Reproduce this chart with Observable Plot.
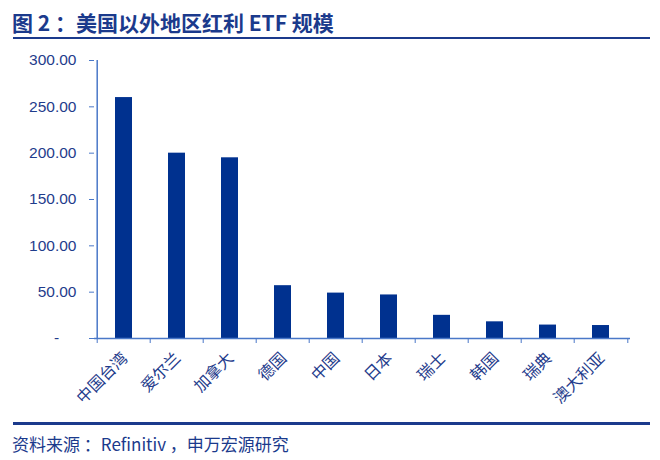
<!DOCTYPE html>
<html><head><meta charset="utf-8">
<script src="https://cdn.jsdelivr.net/npm/d3@7"></script>
<script src="https://cdn.jsdelivr.net/npm/@observablehq/plot@0.6"></script>
<style>
body{margin:0;background:#fff;}
#wrap{position:relative;width:660px;height:460px;overflow:hidden;font-family:"Noto Sans CJK SC","Liberation Sans",sans-serif;background:#fff;}
#title{position:absolute;left:12px;top:12px;font-size:21px;line-height:21px;font-weight:bold;color:#1B3A8C;white-space:pre;}
#tline{position:absolute;left:13px;top:37px;width:637px;height:2px;background:#1B3A8C;}
#bline{position:absolute;left:13px;top:422px;width:637px;height:3px;background:#1B3A8C;}
#caption{position:absolute;left:12px;top:435px;font-size:17px;line-height:17px;color:#1B3A8C;white-space:pre;}
#chart{position:absolute;left:0;top:45px;}
</style>
</head><body>
<div id="wrap">
  <div id="title">图 2 ：美国以外地区红利 ETF 规模</div>
  <div id="tline"></div>
  <div id="chart"></div>
  <div id="bline"></div>
  <div id="caption">资料来源 ：Refinitiv ，申万宏源研究</div>
</div>
<script>
const categories = ["中国台湾","爱尔兰","加拿大","德国","中国","日本","瑞士","韩国","瑞典","澳大利亚"];
const values = [260, 200, 195, 57, 49, 47, 25, 18, 14.5, 14];
const yTicks = [0, 50, 100, 150, 200, 250, 300];

const data = categories.map((c, i) => ({region: c, value: values[i]}));
const W = 660, H = 370, mL = 94, mR = 30, mT = 15, mB = 77;
const step = (W - mL - mR) / categories.length;
const axisColor = "#4A78C8";
const textColor = "#1F3C8C";
const barColor = "#00318F";

const chart = Plot.plot({
  width: W, height: H,
  marginLeft: mL, marginRight: mR, marginTop: mT, marginBottom: mB,
  style: {fontFamily: "'Liberation Sans','Noto Sans CJK SC',sans-serif", fontSize: "15px", color: textColor, background: "transparent"},
  x: {domain: categories, paddingInner: 0.68, paddingOuter: 0.34},
  y: {domain: [0, 300]},
  marks: [
    Plot.barY(data, {x: "region", y: "value", fill: barColor}),
    Plot.ruleY([0], {stroke: axisColor, strokeWidth: 1.5}),
    Plot.ruleX([categories[0]], {dx: -step / 2, y1: 0, y2: 300, stroke: axisColor, strokeWidth: 1.5}),
    Plot.axisY({ticks: yTicks, tickSize: 5, tickPadding: 13, stroke: axisColor, fill: textColor, fontSize: 15.5, label: null,
      tickFormat: d => d === 0 ? "-\u2007\u2007" : d.toFixed(2)}),
    Plot.axisX({tickSize: 5, tickFormat: () => "", dx: -step / 2, stroke: axisColor, label: null}),
    Plot.axisX({ticks: [categories[categories.length - 1]], tickSize: 5, tickFormat: () => "", dx: step / 2, stroke: axisColor, label: null}),
    Plot.axisX({tickSize: 0, tickRotate: -45, tickPadding: 17, dx: 1, fill: textColor, fontSize: 16, label: null})
  ]
});
document.getElementById("chart").appendChild(chart);
</script>
</body></html>
